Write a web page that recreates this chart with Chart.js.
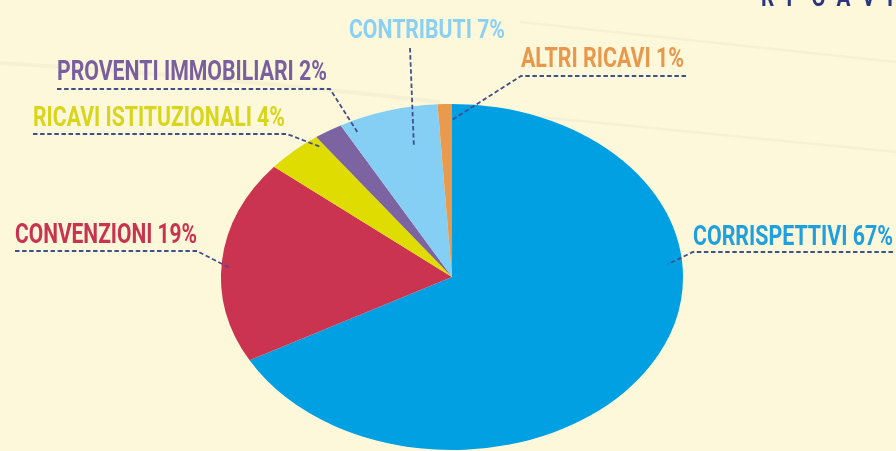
<!DOCTYPE html>
<html><head><meta charset="utf-8">
<script src="https://cdn.jsdelivr.net/npm/chart.js@4/dist/chart.umd.min.js"></script>
<style>
html,body{margin:0;padding:0;background:#FDF8DA;overflow:hidden}
#wrap{position:relative;width:896px;height:451px}
canvas{display:block}
</style>
</head><body><div id="wrap"><canvas id="c" width="896" height="451"></canvas></div>
<script>
// ---- data ----
const categories = ['CORRISPETTIVI', 'CONVENZIONI', 'RICAVI ISTITUZIONALI', 'PROVENTI IMMOBILIARI', 'CONTRIBUTI', 'ALTRI RICAVI'];
const shares = [67, 19, 4, 2, 7, 1];
const sliceColors = ['#00A0E3', '#CA3450', '#DEDC00', '#7C63A2', '#85CFF5', '#E99A4C'];
const labelColors = ['#1E9FE0', '#C8344F', '#D8D51C', '#7A5FA0', '#8AD0F5', '#E8974B'];
const titleText = 'RICAVI';

// ---- layout (annotation positions only) ----
const STRETCH = 231 / 173;
const labelLayout = [
  {x: 693, y: 245, w: 200, size: 28, lineY: 252, x0: 893, x1: 693, anchor: [0.935, -0.075]},
  {x: 15,  y: 243, w: 182, size: 28, lineY: 251, x0: 15,  x1: 197, anchor: [-0.961, -0.052]},
  {x: 33,  y: 126, w: 252, size: 28, lineY: 134, x0: 33,  x1: 287, anchor: [-0.567, -0.751]},
  {x: 57,  y: 80,  w: 270, size: 28, lineY: 89,  x0: 57,  x1: 330, anchor: [-0.407, -0.832]},
  {x: 349, y: 38,  w: 156, size: 26, vertical: [410, 48], anchor: [-0.165, -0.757]},
  {x: 521, y: 67,  w: 163, size: 27, lineY: 76,  x0: 686, x1: 521, anchor: [0.0, -0.908]}
];

const bgPlugin = {
  id: 'bg',
  beforeDraw(chart) {
    const ctx = chart.ctx;
    ctx.save();
    ctx.fillStyle = '#FDF8DA';
    ctx.fillRect(0, 0, chart.width, chart.height);
    // faint paper streaks
    ctx.strokeStyle = 'rgba(120,110,80,0.05)';
    ctx.lineWidth = 4;
    ctx.beginPath(); ctx.moveTo(0, 63); ctx.quadraticCurveTo(200, 75, 440, 102); ctx.stroke();
    ctx.lineWidth = 2.5;
    ctx.beginPath(); ctx.moveTo(520, 22); ctx.lineTo(896, 62); ctx.stroke();
    ctx.beginPath(); ctx.moveTo(530, 116); ctx.lineTo(896, 152); ctx.stroke();
    // title (cut off at top)
    ctx.fillStyle = '#2B3580';
    ctx.font = '700 26px Roboto';
    ctx.textBaseline = 'alphabetic';
    const chars = titleText.split('');
    chars.forEach((ch, i) => {
      ctx.save();
      ctx.translate(761 + i * 25.2, 6);
      ctx.scale(0.8, 1);
      ctx.fillText(ch, 0, 0);
      ctx.restore();
    });
    ctx.restore();
  }
};

const ellipsePlugin = {
  id: 'ellipse',
  beforeDatasetsDraw(chart) {
    const a = chart.getDatasetMeta(0).data[0];
    const ctx = chart.ctx;
    ctx.save();
    ctx.translate(a.x, a.y);
    ctx.scale(STRETCH, 1);
    ctx.translate(-a.x, -a.y);
  },
  afterDatasetsDraw(chart) {
    chart.ctx.restore();
  }
};

const labelPlugin = {
  id: 'labels',
  afterDraw(chart) {
    const ctx = chart.ctx;
    const arcs = chart.getDatasetMeta(0).data;
    const ds = chart.data.datasets[0];
    arcs.forEach((arc, i) => {
      const L = labelLayout[i];
      const R = arc.outerRadius;
      const ax = arc.x + L.anchor[0] * R * STRETCH;
      const ay = arc.y + L.anchor[1] * R;
      // leader line
      ctx.save();
      ctx.strokeStyle = '#424F8E';
      ctx.lineWidth = 1.8;
      ctx.setLineDash([4.5, 2.6]);
      ctx.beginPath();
      if (L.vertical) {
        ctx.moveTo(L.vertical[0], L.vertical[1]);
        ctx.lineTo(ax, ay);
      } else {
        ctx.moveTo(L.x0, L.lineY);
        ctx.lineTo(L.x1, L.lineY);
        ctx.lineTo(ax, ay);
      }
      ctx.stroke();
      ctx.restore();
      // text
      const text = chart.data.labels[i] + ' ' + ds.data[i] + '%';
      ctx.save();
      ctx.font = '700 ' + L.size + 'px Roboto';
      ctx.fillStyle = labelColors[i];
      ctx.textBaseline = 'alphabetic';
      const m = ctx.measureText(text).width;
      ctx.translate(L.x, L.y);
      ctx.scale(L.w / m, 1);
      ctx.fillText(text, 0, 0);
      ctx.restore();
    });
  }
};

new Chart(document.getElementById('c'), {
  type: 'pie',
  data: {
    labels: categories,
    datasets: [{
      data: shares,
      backgroundColor: sliceColors,
      borderWidth: 0,
      hoverOffset: 0,
      offset: 0,
      clip: false
    }]
  },
  options: {
    responsive: false,
    animation: false,
    devicePixelRatio: 1,
    rotation: 0,
    layout: {padding: {top: 104, bottom: 1, left: 152, right: 144}},
    plugins: {legend: {display: false}, tooltip: {enabled: false}}
  },
  plugins: [bgPlugin, ellipsePlugin, labelPlugin]
});
</script>
</body></html>
